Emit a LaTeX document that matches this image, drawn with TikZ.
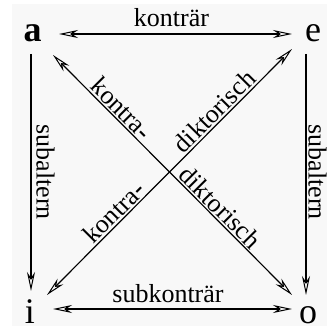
\documentclass[tikz,border=0pt]{standalone}
\usepackage{fontspec}
\setmainfont{Liberation Serif}
\usetikzlibrary{arrows.meta}
\definecolor{bg}{RGB}{248,248,248}
\begin{document}
\begin{tikzpicture}[x=1pt,y=-1pt,
  font=\fontsize{26}{30}\selectfont,
  tip/.tip={Stealth[open,length=19pt,width=8pt,inset=6pt,line width=1pt]},
  conn/.style={draw, line width=1.2pt},
  both/.style={conn, tip-tip},
  single/.style={conn, -tip},
  corner/.style={font=\fontsize{36}{40}\selectfont, inner sep=0pt, anchor=base},
  lbl/.style={inner sep=0pt},
  dlbl/.style={sloped, above, inner sep=1.5pt}]
\useasboundingbox (0,0) rectangle (327,326);
\fill[bg] (12,4) rectangle (327,326);
% corner letters
\node[corner] (a) at (32.5,42) {\textbf{a}};
\node[corner] (e) at (313,42) {e};
\node[corner] (i) at (30,323) {i};
\node[corner] (o) at (308,323) {o};
% connector end points
\coordinate (aR) at (59,34);
\coordinate (eL) at (292,34);
\coordinate (iR) at (53,309);
\coordinate (oL) at (292,309);
\coordinate (aD) at (31,54);
\coordinate (iU) at (31,291);
\coordinate (eD) at (306,54);
\coordinate (oU) at (306,295);
\coordinate (aO) at (53,55);
\coordinate (oA) at (292,295);
\coordinate (iE) at (47,295);
\coordinate (eI) at (292,49);
% connectors
\draw[both] (aR) -- (eL);
\draw[both] (iR) -- (oL);
\draw[single] (aD) -- (iU);
\draw[single] (eD) -- (oU);
\draw[both] (aO) -- node[dlbl, pos=0.255] (k1) {kontra\textbf{-}}
                    node[dlbl, pos=0.667] (d1) {diktorisch} (oA);
\draw[both] (iE) -- node[dlbl, pos=0.305] (k2) {kontra\textbf{-}}
                    node[dlbl, pos=0.715] (d2) {diktorisch} (eI);
% labels
\node[lbl, anchor=base] (kt) at (171.5,27) {konträr};
\node[lbl, anchor=base] (skt) at (168,302) {subkonträr};
\node[lbl, rotate=-90] (sl) at (45.5,172) {subaltern};
\node[lbl, rotate=-90] (sr) at (317.5,172) {subaltern};
\end{tikzpicture}
\end{document}
